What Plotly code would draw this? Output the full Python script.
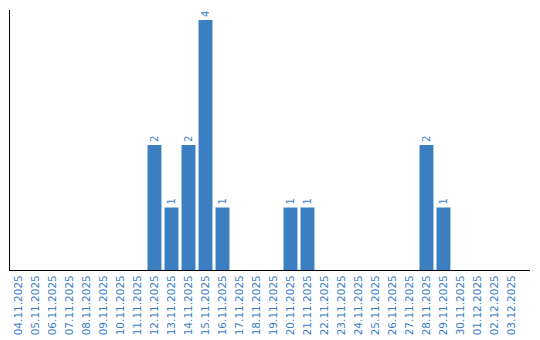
import plotly.graph_objects as go

dates = ["04.11.2025", "05.11.2025", "06.11.2025", "07.11.2025", "08.11.2025",
         "09.11.2025", "10.11.2025", "11.11.2025", "12.11.2025", "13.11.2025",
         "14.11.2025", "15.11.2025", "16.11.2025", "17.11.2025", "18.11.2025",
         "19.11.2025", "20.11.2025", "21.11.2025", "22.11.2025", "23.11.2025",
         "24.11.2025", "25.11.2025", "26.11.2025", "27.11.2025", "28.11.2025",
         "29.11.2025", "30.11.2025", "01.12.2025", "02.12.2025", "03.12.2025"]
counts = [0, 0, 0, 0, 0, 0, 0, 0, 2, 1, 2, 4, 1, 0, 0, 0, 1, 1, 0, 0,
          0, 0, 0, 0, 2, 1, 0, 0, 0, 0]

blue = "#3b7ec2"
labels = [str(v) if v > 0 else "" for v in counts]

fig = go.Figure(go.Bar(
    x=dates, y=counts, marker_color=blue, marker_line_width=0,
    text=labels, textposition="outside", textangle=-90,
    textfont=dict(color=blue, size=10, family="DejaVu Sans"),
    cliponaxis=False,
))

fig.update_layout(
    width=540, height=340,
    margin=dict(l=10, r=10, t=10, b=70, autoexpand=False),
    plot_bgcolor="white", paper_bgcolor="white",
    bargap=0.18, showlegend=False,
    font=dict(family="DejaVu Sans", color=blue, size=10),
)
fig.update_xaxes(
    type="category", range=[-0.5, 30.09], showline=True, linecolor="black",
    linewidth=1, ticks="", tickangle=-90, showgrid=False, automargin=False,
    tickfont=dict(color=blue, size=10.5, family="DejaVu Sans"),
)
fig.update_yaxes(
    range=[0, 4.16], showline=True, linecolor="black", linewidth=1,
    showticklabels=False, ticks="", showgrid=False, zeroline=False,
    automargin=False,
)

fig.write_html("out.html")
